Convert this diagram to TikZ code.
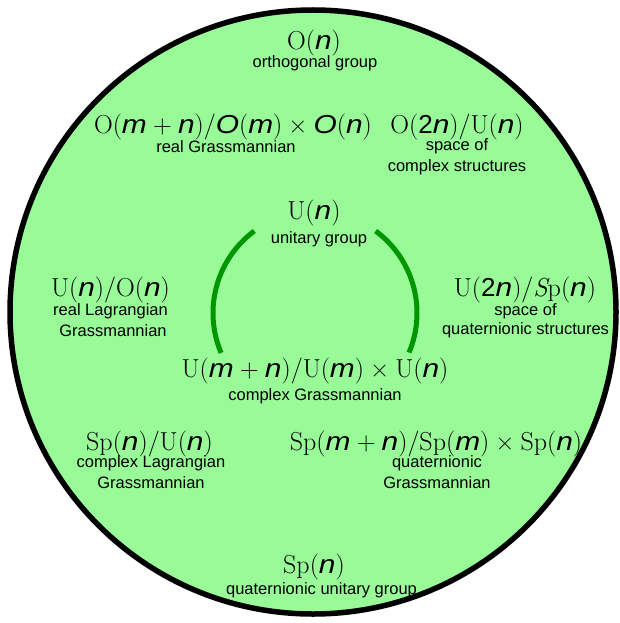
\documentclass[tikz,border=0pt]{standalone}
\usepackage{fontspec}
\usetikzlibrary{calc}
\newfontfamily\lab{Liberation Sans}
\newfontfamily\vfam{Liberation Sans}[ItalicFeatures={FakeStretch=1.15}]
\definecolor{palegreen}{RGB}{152,251,152}
\definecolor{arcgreen}{RGB}{0,150,0}
\newcommand\V[1]{{\vfam\itshape #1}}
\newcommand\N[1]{{\vfam #1}}
\newcommand\op[1]{\hspace{0.24em}#1\hspace{0.24em}}
\begin{document}
\begin{tikzpicture}[x=1pt,y=-1pt,
  f/.style={anchor=base,inner sep=0pt,font=\fontsize{26}{30}\selectfont},
  l/.style={anchor=base,inner sep=0pt,font=\lab\fontsize{16.5}{20}\selectfont},
  garc/.style={draw=arcgreen,line width=5pt}]
\useasboundingbox (0,0) rectangle (619,623);
\draw[line width=5.5pt, fill=palegreen] (313,312) ellipse [x radius=303, y radius=302];
% formulas
\node[f] (on) at (314,50) {O(\V{n})};
\node[l] (onl) at (315,68) {orthogonal group};
\node[f] (rg) at (233,133) {O(\V{m}\op{+}\V{n})/\V{O}(\V{m})\op{×}\V{O}(\V{n})};
\node[l] (rgl) at (226,152) {real Grassmannian};
\node[f] (cs) at (457,133) {O(\N{2}\V{n})/U(\V{n})};
\node[l] (csl1) at (457,150) {space of};
\node[l] (csl2) at (457,171) {complex structures};
\node[f] (un) at (314,219) {U(\V{n})};
\node[l] (unl) at (319,243) {unitary group};
\node[f] (rl) at (110.5,296) {U(\V{n})/O(\V{n})};
\node[l] (rll1) at (110.5,315) {real Lagrangian};
\node[l] (rll2) at (113,336) {Grassmannian};
\node[f] (qs) at (525,296) {U(\N{2}\V{n})/{\itshape S}p(\V{n})};
\node[l] (qsl1) at (525.5,315) {space of};
\node[l] (qsl2) at (525.5,334) {quaternionic structures};
\node[f] (cg) at (315,377) {U(\V{m}\op{+}\V{n})/U(\V{m})\op{×}U(\V{n})};
\node[l] (cgl) at (315,400) {complex Grassmannian};
\node[f] (cl) at (149.5,450) {Sp(\V{n})/U(\V{n})};
\node[l] (cll1) at (151,467) {complex Lagrangian};
\node[l] (cll2) at (151,488) {Grassmannian};
\node[f] (qg) at (436,450) {Sp(\V{m}\op{+}\V{n})/Sp(\V{m})\op{×}Sp(\V{n})};
\node[l] (qgl1) at (437,467) {quaternionic};
\node[l] (qgl2) at (437,488) {Grassmannian};
\node[f] (sp) at (314,573) {Sp(\V{n})};
\node[l] (spl) at (321.5,594) {quaternionic unitary group};
% arcs
\coordinate (ac) at (315,313);
\coordinate (la) at ($(ac)+(233.5:102)$);
\coordinate (ra) at ($(ac)+(-53.5:102)$);
\draw[garc] (la) arc[start angle=233.5,end angle=157,radius=102];
\draw[garc] (ra) arc[start angle=-53.5,end angle=22.8,radius=102];
\end{tikzpicture}
\end{document}
